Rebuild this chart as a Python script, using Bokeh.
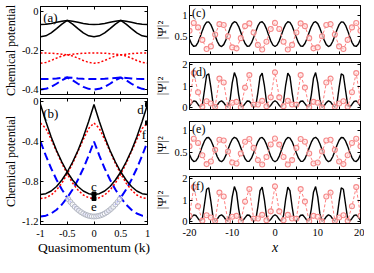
from bokeh.plotting import figure
from bokeh.layouts import row, column
from bokeh.models import LinearAxis, Range1d, FixedTicker, Label
from bokeh.embed import file_html
from bokeh.resources import INLINE

FONT = "Liberation Serif"

# ---------------- data: left panels (chemical potential vs quasimomentum) ----
k = [-1.0, -0.9, -0.8, -0.7, -0.6, -0.5, -0.4, -0.3, -0.2, -0.1, 0.0,
     0.1, 0.2, 0.3, 0.4, 0.5, 0.6, 0.7, 0.8, 0.9, 1.0]
k_ticks = [-1, -0.5, 0, 0.5, 1]
k_tick_labels = ["-1", "-0.5", "0", "0.5", "1"]

mu_a_ticks = [-0.4, -0.2, 0]
mu_a_tick_labels = ["-0.4", "-0.2", "0"]
mu_b_ticks = [-1.2, -0.8, -0.4, 0]
mu_b_tick_labels = ["-1.2", "-0.8", "-0.4", "0"]

black_a_upper = [-0.067, -0.066, -0.062, -0.056, -0.050, -0.046, -0.050, -0.056, -0.062, -0.066, -0.067,
                 -0.066, -0.062, -0.056, -0.050, -0.046, -0.050, -0.056, -0.062, -0.066, -0.067]
black_a_lower = [-0.130, -0.125, -0.110, -0.088, -0.065, -0.046, -0.065, -0.088, -0.110, -0.125, -0.130,
                 -0.125, -0.110, -0.088, -0.065, -0.046, -0.065, -0.088, -0.110, -0.125, -0.130]
red_a_upper = [-0.213, -0.213, -0.214, -0.216, -0.219, -0.222, -0.219, -0.216, -0.214, -0.213, -0.213,
               -0.213, -0.214, -0.216, -0.219, -0.222, -0.219, -0.216, -0.214, -0.213, -0.213]
red_a_lower = [-0.265, -0.261, -0.251, -0.239, -0.228, -0.222, -0.228, -0.239, -0.251, -0.261, -0.265,
               -0.261, -0.251, -0.239, -0.228, -0.222, -0.228, -0.239, -0.251, -0.261, -0.265]
blue_a_upper = [-0.346, -0.346, -0.345, -0.343, -0.340, -0.338, -0.340, -0.343, -0.345, -0.346, -0.346,
                -0.346, -0.345, -0.343, -0.340, -0.338, -0.340, -0.343, -0.345, -0.346, -0.346]
blue_a_lower = [-0.400, -0.396, -0.386, -0.370, -0.352, -0.338, -0.352, -0.370, -0.386, -0.396, -0.400,
                -0.396, -0.386, -0.370, -0.352, -0.338, -0.352, -0.370, -0.386, -0.396, -0.400]

black_b_1 = [-0.03, -0.2, -0.355, -0.49, -0.605, -0.705, -0.785, -0.85, -0.895, -0.922, -0.93,
             -0.922, -0.895, -0.85, -0.785, -0.705, -0.605, -0.49, -0.355, -0.2, -0.03]
black_b_2 = [-0.93, -0.922, -0.895, -0.85, -0.785, -0.705, -0.605, -0.49, -0.355, -0.2, -0.03,
             -0.2, -0.355, -0.49, -0.605, -0.705, -0.785, -0.85, -0.895, -0.922, -0.93]
red_b_1 = [-0.215, -0.27, -0.38, -0.5, -0.62, -0.725, -0.815, -0.885, -0.935, -0.962, -0.97,
           -0.962, -0.935, -0.885, -0.815, -0.725, -0.62, -0.5, -0.38, -0.27, -0.215]
red_b_2 = [-0.97, -0.962, -0.935, -0.885, -0.815, -0.725, -0.62, -0.5, -0.38, -0.27, -0.215,
           -0.27, -0.38, -0.5, -0.62, -0.725, -0.815, -0.885, -0.935, -0.962, -0.97]
blue_b_1 = [-0.40, -0.542, -0.67, -0.782, -0.88, -0.962, -1.03, -1.082, -1.12, -1.142, -1.15,
            -1.142, -1.12, -1.082, -1.03, -0.962, -0.88, -0.782, -0.67, -0.542, -0.40]
blue_b_2 = [-1.15, -1.142, -1.12, -1.082, -1.03, -0.962, -0.88, -0.782, -0.67, -0.542, -0.40,
            -0.542, -0.67, -0.782, -0.88, -0.962, -1.03, -1.082, -1.12, -1.142, -1.15]

k_circles = [-0.48, -0.44, -0.40, -0.36, -0.32, -0.28, -0.24, -0.20, -0.16, -0.12, -0.08, -0.04, 0.0,
             0.04, 0.08, 0.12, 0.16, 0.20, 0.24, 0.28, 0.32, 0.36, 0.40, 0.44, 0.48]
mu_circles = [-0.977, -1.005, -1.030, -1.053, -1.073, -1.091, -1.107, -1.120, -1.131, -1.139, -1.145, -1.149, -1.150,
              -1.149, -1.145, -1.139, -1.131, -1.120, -1.107, -1.091, -1.073, -1.053, -1.030, -1.005, -0.977]

marked_k = [0.0, 0.0, 1.0, 1.0]
marked_mu = [-0.925, -0.97, -0.03, -0.214]

# ---------------- data: right panels (density profiles) ----------------------
x_fine = [-20 + 0.5 * i for i in range(81)]
x_circ = list(range(-20, 21))
x_ticks = [-20, -10, 0, 10, 20]
x_minor = [-15, -5, 5, 15]
x_tick_labels = ["-20", "-10", "0", "10", "20"]
psi_ce_ticks = [0.5, 1]
psi_ce_tick_labels = ["0.5", "1"]
psi_df_ticks = [0, 1, 2]
psi_df_tick_labels = ["0", "1", "2"]

black_c = [0.442, 0.329, 0.273, 0.288, 0.369, 0.496, 0.640, 0.764, 0.838, 0.844, 0.780, 0.663, 0.520, 0.388,
           0.297, 0.271, 0.315, 0.420, 0.559, 0.698, 0.803, 0.849, 0.824, 0.735, 0.602, 0.459, 0.341, 0.277,
           0.282, 0.354, 0.478, 0.621, 0.749, 0.832, 0.847, 0.792, 0.681, 0.540, 0.403, 0.305,
           0.270,
           0.305, 0.403, 0.540, 0.681, 0.792, 0.847, 0.832, 0.749, 0.621, 0.478, 0.354, 0.282, 0.277, 0.341,
           0.459, 0.602, 0.735, 0.824, 0.849, 0.803, 0.698, 0.559, 0.420, 0.315, 0.271, 0.297, 0.388, 0.520,
           0.663, 0.780, 0.844, 0.838, 0.764, 0.640, 0.496, 0.369, 0.288, 0.273, 0.329, 0.442]
black_d = [0.053, 0.198, 0.303, 0.274, 0.137, 0.016, 0.117, 0.801, 1.503, 1.569, 0.939, 0.197, 0.006, 0.111,
           0.256, 0.309, 0.222, 0.075, 0.000, 0.361, 1.148, 1.630, 1.358, 0.585, 0.030, 0.039, 0.177, 0.296,
           0.286, 0.157, 0.026, 0.066, 0.691, 1.435, 1.607, 1.046, 0.276, 0.002, 0.092, 0.237,
           0.310,
           0.237, 0.092, 0.002, 0.276, 1.046, 1.607, 1.435, 0.691, 0.066, 0.026, 0.157, 0.286, 0.296, 0.177,
           0.039, 0.030, 0.585, 1.358, 1.630, 1.148, 0.361, 0.000, 0.075, 0.222, 0.309, 0.256, 0.111, 0.006,
           0.197, 0.939, 1.569, 1.503, 0.801, 0.117, 0.016, 0.137, 0.274, 0.303, 0.198, 0.053]
red_c = [0.637, 0.817, 0.715, 0.425, 0.213, 0.274, 0.552, 0.791, 0.772, 0.511, 0.250, 0.228, 0.465, 0.744,
         0.808, 0.598, 0.308, 0.203, 0.381, 0.677, 0.820, 0.677, 0.381, 0.203, 0.308, 0.598, 0.808, 0.744,
         0.465, 0.228, 0.250, 0.511, 0.772, 0.791, 0.552, 0.274, 0.213, 0.425, 0.715, 0.817, 0.637]
red_d = [0.266, 1.603, 0.705, 0.025, 0.285, 0.180, 0.026, 1.346, 1.162, 0.000, 0.219, 0.258, 0.007, 0.924,
         1.510, 0.124, 0.134, 0.304, 0.055, 0.468, 1.640, 0.468, 0.055, 0.304, 0.134, 0.124, 1.510, 0.924,
         0.007, 0.258, 0.219, 0.000, 1.162, 1.346, 0.026, 0.180, 0.285, 0.025, 0.705, 1.603, 0.266]
black_e = black_c
red_e = red_c
black_f = black_d
red_f = red_d


# ---------------- helpers --------------------------------------------------
def panel(fw, fh, bl, br, bt, bb, xr, yr):
    p = figure(frame_width=fw, frame_height=fh, x_range=Range1d(*xr), y_range=Range1d(*yr),
               min_border_left=bl, min_border_right=br, min_border_top=bt, min_border_bottom=bb,
               output_backend="svg", toolbar_location=None)
    p.xgrid.visible = False
    p.ygrid.visible = False
    p.outline_line_color = "black"
    p.outline_line_width = 1
    p.outline_line_alpha = 1
    p.background_fill_color = "white"
    p.border_fill_color = "white"
    return p


def style(ax, ticks, labels=None, minor=None, standoff=2, size="10.5px"):
    ax.ticker = FixedTicker(ticks=ticks, minor_ticks=minor or [])
    ax.major_tick_in = 3
    ax.major_tick_out = 0
    ax.minor_tick_in = 3
    ax.minor_tick_out = 0
    ax.major_tick_line_color = "black"
    ax.minor_tick_line_color = "black"
    ax.axis_line_color = "black"
    ax.major_label_text_font = FONT
    ax.major_label_text_color = "black"
    if labels is None:
        ax.major_label_text_font_size = "0px"
        ax.major_label_standoff = 0
        ax.major_label_overrides = {t: "" for t in ticks}
    else:
        ax.major_label_text_font_size = size
        ax.major_label_standoff = standoff
        ax.major_label_overrides = {t: s for t, s in zip(ticks, labels)}


def axis_label(ax, text, size, standoff, italic=False):
    ax.axis_label = text
    ax.axis_label_text_font = FONT
    ax.axis_label_text_font_size = size
    ax.axis_label_text_font_style = "italic" if italic else "normal"
    ax.axis_label_text_color = "black"
    ax.axis_label_standoff = standoff


def box(p, xticks, yticks, xminor=None):
    top = LinearAxis()
    style(top, xticks, None, xminor)
    p.add_layout(top, "above")
    right = LinearAxis()
    style(right, yticks)
    p.add_layout(right, "right")


def tag(p, x, y, text, size, align="left"):
    p.add_layout(Label(x=x, y=y, text=text, text_font=FONT, text_font_size=size,
                       text_align=align, text_baseline="middle", text_color="black"))


# ---------------- panel (a) -------------------------------------------------
pa = panel(107, 88, 34, 4, 6, 2, (-1, 1), (-0.425, 0.025))
style(pa.xaxis[0], k_ticks)
style(pa.yaxis[0], mu_a_ticks, mu_a_tick_labels, standoff=2)
axis_label(pa.yaxis[0], "Chemical potential", "12px", 1)
box(pa, k_ticks, mu_a_ticks)
for ys in (blue_a_upper, blue_a_lower):
    pa.line(k, ys, line_color="#0000ff", line_width=2, line_dash="8 4")
for ys in (red_a_upper, red_a_lower):
    pa.line(k, ys, line_color="#ff0000", line_width=1.5, line_dash="2 2")
for ys in (black_a_upper, black_a_lower):
    pa.line(k, ys, line_color="black", line_width=1.5)
tag(pa, -0.95, -0.03, "(a)", "13px")

# ---------------- panel (b) -------------------------------------------------
pb = panel(107, 126, 34, 4, 2, 33, (-1, 1), (-1.23, 0.03))
style(pb.xaxis[0], k_ticks, k_tick_labels, standoff=5)
axis_label(pb.xaxis[0], "Quasimomentum (k)", "13.5px", 0)
style(pb.yaxis[0], mu_b_ticks, mu_b_tick_labels, standoff=2)
axis_label(pb.yaxis[0], "Chemical potential", "12px", 1)
box(pb, k_ticks, mu_b_ticks)
for ys in (blue_b_1, blue_b_2):
    pb.line(k, ys, line_color="#0000ff", line_width=2, line_dash="8 4")
for ys in (red_b_1, red_b_2):
    pb.line(k, ys, line_color="#ff0000", line_width=1.5, line_dash="2 2")
for ys in (black_b_1, black_b_2):
    pb.line(k, ys, line_color="black", line_width=1.5)
pb.scatter(k_circles, mu_circles, marker="circle", size=5, line_color="#b2b6c2",
           line_width=1, fill_color="white", fill_alpha=0.7)
pb.scatter(marked_k, marked_mu, marker="square", size=4, line_color="black", fill_color="black")
tag(pb, -0.95, -0.12, "(b)", "13px")
tag(pb, 0.87, -0.08, "d", "13px", "center")
tag(pb, 0.935, -0.33, "f", "13px", "center")
tag(pb, 0.0, -0.85, "c", "13px", "center")
tag(pb, 0.0, -1.057, "e", "13px", "center")


# ---------------- right panels ----------------------------------------------
def density(fh, bt, bb, yr, yticks, ylabels, lstand, black, red, label, label_y, bottom_labels=False):
    p = panel(171, fh, 33, 4, bt, bb, (-20, 20), yr)
    if bottom_labels:
        style(p.xaxis[0], x_ticks, x_tick_labels, x_minor, standoff=5)
        axis_label(p.xaxis[0], "x", "14px", 1, italic=True)
    else:
        style(p.xaxis[0], x_ticks, None, x_minor)
    style(p.yaxis[0], yticks, ylabels, standoff=2)
    axis_label(p.yaxis[0], "|\u03a8|\u00b2", "13px", lstand)
    box(p, x_ticks, yticks, x_minor)
    p.line(x_fine, black, line_color="black", line_width=1.4)
    p.line(x_circ, red, line_color="#ff8080", line_width=1, line_dash="3 2")
    p.scatter(x_circ, red, marker="circle", size=5, line_color="#f58a8a", line_width=1.1,
              fill_color="#ffe4e4", fill_alpha=0.6)
    tag(p, -19.4, label_y, label, "12px")
    return p


pc = density(49, 5, 4, (0.085, 1.225), psi_ce_ticks, psi_ce_tick_labels, 2, black_c, red_c, "(c)", 1.04)
pd = density(47, 4, 5, (-0.1, 2.1), psi_df_ticks, psi_df_tick_labels, 10, black_d, red_d, "(d)", 1.64)
pe = density(48, 7, 3, (0.085, 1.225), psi_ce_ticks, psi_ce_tick_labels, 2, black_e, red_e, "(e)", 1.05)
pf = density(47, 4, 34, (-0.1, 2.1), psi_df_ticks, psi_df_tick_labels, 10, black_f, red_f, "(f)", 1.67,
             bottom_labels=True)

layout = row(column(pa, pb), column(pc, pd, pe, pf))
open("out.html", "w").write(file_html(layout, INLINE))
